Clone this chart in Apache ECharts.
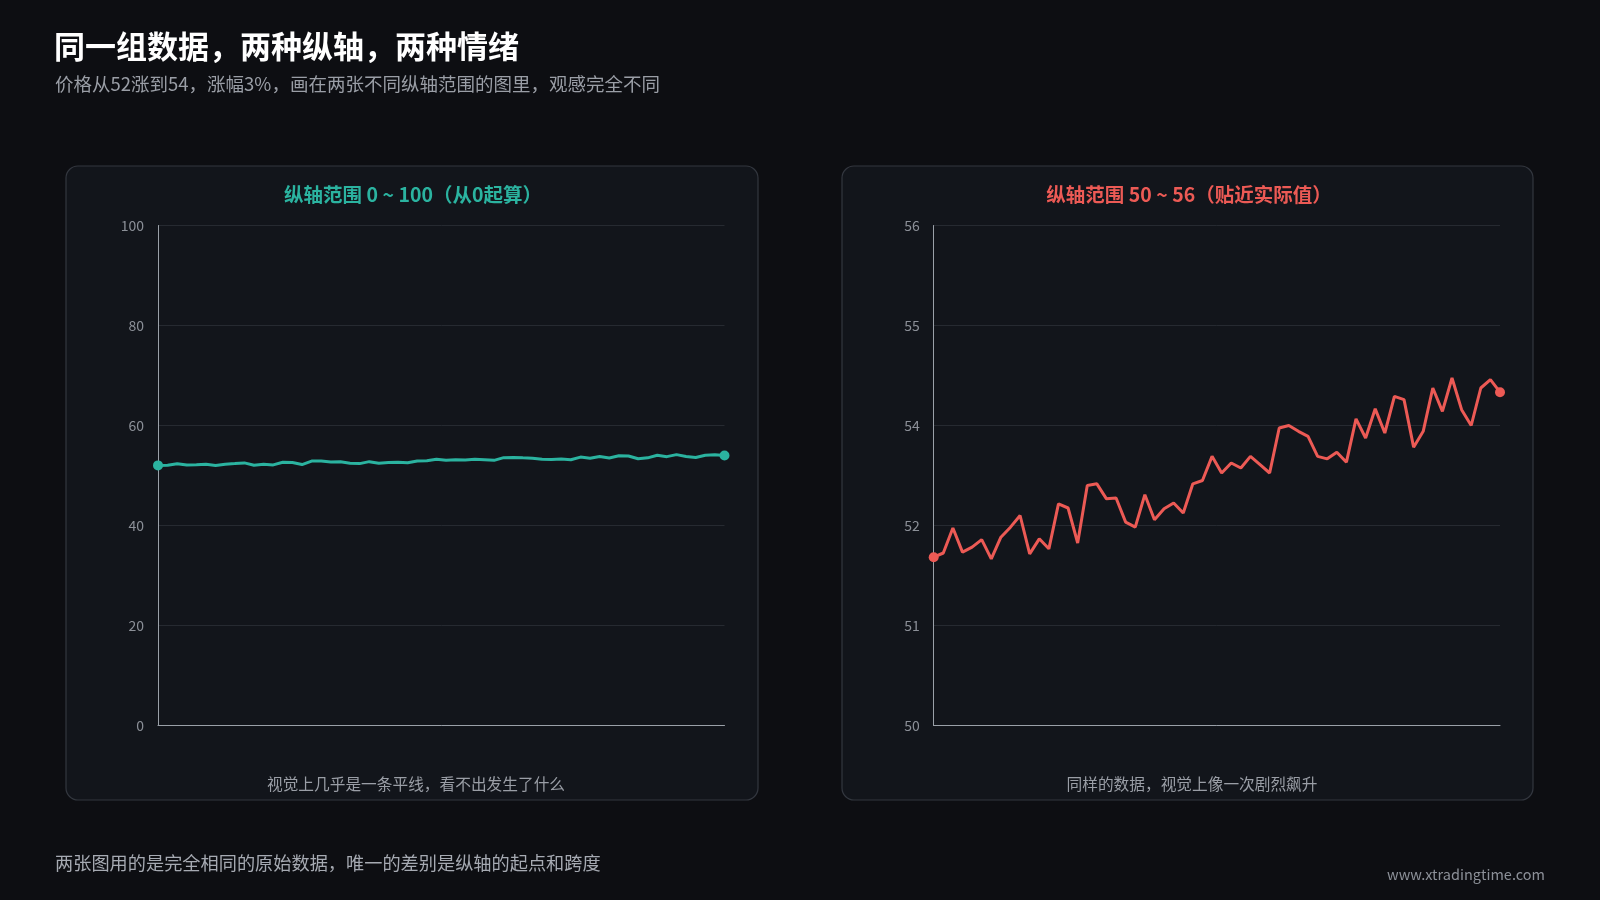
<!DOCTYPE html>
<html><head><meta charset="utf-8">
<script src="https://cdn.jsdelivr.net/npm/echarts@6/dist/echarts.min.js"></script>
<style>html,body{margin:0;padding:0;background:#0d0e12;}#c{width:1600px;height:900px;}</style>
</head><body><div id="c"></div>
<script>
const categories = Array.from({length: 60}, (_, i) => 'D' + (i + 1));
const prices = [52.02,52.07,52.37,52.08,52.14,52.23,52.0,52.26,52.38,52.52,
  52.06,52.24,52.12,52.66,52.61,52.19,52.88,52.9,52.72,52.73,
  52.44,52.38,52.77,52.47,52.6,52.67,52.55,52.9,52.94,53.23,
  53.03,53.15,53.09,53.23,53.13,53.03,53.57,53.6,53.53,53.47,
  53.23,53.2,53.28,53.16,53.68,53.45,53.8,53.51,53.95,53.91,
  53.34,53.53,54.05,53.77,54.17,53.79,53.6,54.05,54.15,54.0];
const leftTicks = [0, 20, 40, 60, 80, 100];
const rightRange = [50, 56];

const font = '"Noto Sans CJK SC", "Noto Sans", sans-serif';
const chart = echarts.init(document.getElementById('c'));
const last = prices.length - 1;
function lineSeries(idx, color) {
  return {
    type: 'line', xAxisIndex: idx, yAxisIndex: idx, data: prices, smooth: false,
    symbol: 'circle', symbolSize: (v, p) => (p.dataIndex === 0 || p.dataIndex === last) ? 10 : 0,
    showSymbol: true, showAllSymbol: true,
    lineStyle: {color, width: 3}, itemStyle: {color}, silent: true, animation: false
  };
}
function xAx(idx) {
  return {gridIndex: idx, type: 'category', data: categories, boundaryGap: false,
    axisLine: {lineStyle: {color: '#9aa0a8', width: 1}}, axisTick: {show: false}, axisLabel: {show: false}};
}
const yBase = {axisLine: {show: true, lineStyle: {color: '#9aa0a8'}}, axisTick: {show: false},
  splitLine: {lineStyle: {color: '#262a31'}}, axisLabel: {color: '#8c9098', fontSize: 14, fontFamily: font, margin: 14}};
chart.setOption({
  backgroundColor: '#0d0e12',
  animation: false,
  graphic: [
    {type: 'rect', shape: {x: 66, y: 166, width: 692, height: 634, r: 12}, style: {fill: '#12151b', stroke: '#33373f', lineWidth: 1.2}, z: -10},
    {type: 'rect', shape: {x: 842, y: 166, width: 691, height: 634, r: 12}, style: {fill: '#12151b', stroke: '#33373f', lineWidth: 1.2}, z: -10}
  ],
  title: [
    {text: '同一组数据，两种纵轴，两种情绪', left: 49, top: 26, textStyle: {color: '#ffffff', fontSize: 31, fontWeight: 'bold', fontFamily: font}},
    {text: '价格从52涨到54，涨幅3%，画在两张不同纵轴范围的图里，观感完全不同', left: 50, top: 70, textStyle: {color: '#9a9ea6', fontSize: 18.5, fontWeight: 'normal', fontFamily: font}},
    {text: '纵轴范围 0 ~ 100（从0起算）', left: 408, textAlign: 'center', top: 180, textStyle: {color: '#2bb3a0', fontSize: 19.5, fontWeight: 'bold', fontFamily: font}},
    {text: '纵轴范围 50 ~ 56（贴近实际值）', left: 1184, textAlign: 'center', top: 180, textStyle: {color: '#ec5a55', fontSize: 19.5, fontWeight: 'bold', fontFamily: font}},
    {text: '视觉上几乎是一条平线，看不出发生了什么', left: 411, textAlign: 'center', top: 771, textStyle: {color: '#9a9ea6', fontSize: 15.7, fontWeight: 'normal', fontFamily: font}},
    {text: '同样的数据，视觉上像一次剧烈飙升', left: 1187, textAlign: 'center', top: 771, textStyle: {color: '#9a9ea6', fontSize: 15.7, fontWeight: 'normal', fontFamily: font}},
    {text: '两张图用的是完全相同的原始数据，唯一的差别是纵轴的起点和跨度', left: 50, top: 849, textStyle: {color: '#a6aab2', fontSize: 18.2, fontWeight: 'normal', fontFamily: font}},
    {text: 'www.xtradingtime.com', right: 50, top: 862, textStyle: {color: '#8c9098', fontSize: 14.5, fontWeight: 'normal', fontFamily: font}}
  ],
  grid: [
    {left: 158, top: 225.5, width: 566.5, height: 500},
    {left: 933.7, top: 225.5, width: 566.3, height: 500}
  ],
  xAxis: [xAx(0), xAx(1)],
  yAxis: [
    Object.assign({}, yBase, {gridIndex: 0, min: leftTicks[0], max: leftTicks[leftTicks.length - 1], interval: 20}),
    Object.assign({}, yBase, {gridIndex: 1, min: rightRange[0], max: rightRange[1], interval: 1.2,
      axisLabel: Object.assign({}, yBase.axisLabel, {formatter: v => String(Math.round(v))})})
  ],
  series: [lineSeries(0, '#2bb3a0'), lineSeries(1, '#ec5a55')]
});
</script></body></html>
